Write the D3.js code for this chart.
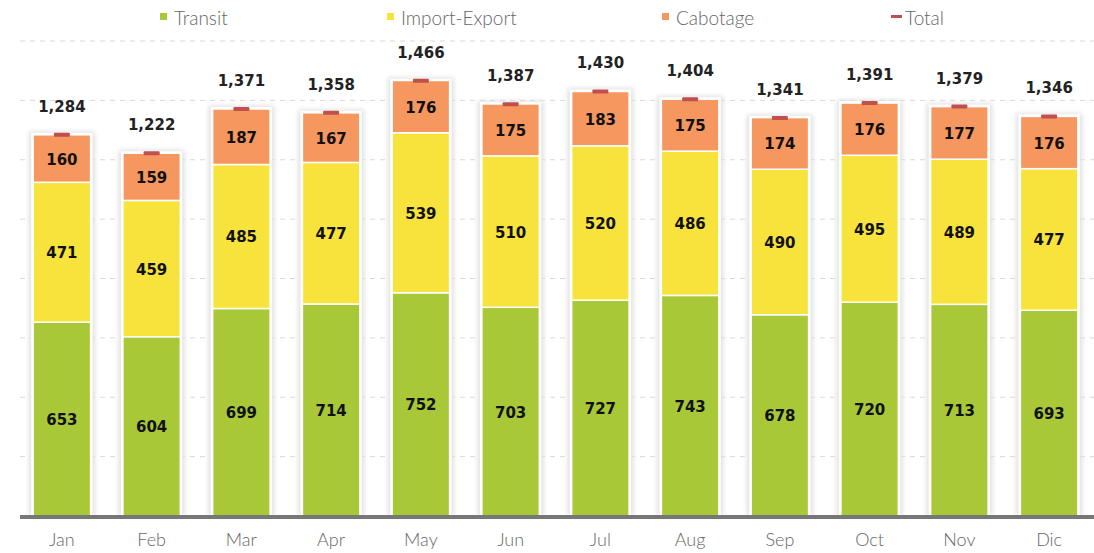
<!DOCTYPE html>
<html>
<head>
<meta charset="utf-8">
<script src="https://cdn.jsdelivr.net/npm/d3@7"></script>
<style>
  body { margin: 0; background: #fff; }
  .grid line { stroke: #d9d9d9; stroke-dasharray: 5,5; }
  .month { font-family: Lato, "Open Sans", sans-serif; font-weight: 300; font-size: 18px; fill: #666; }
  .seg-label { font-family: "DejaVu Sans", sans-serif; font-weight: bold; font-size: 15px; fill: #111; }
  .total-label { font-family: "DejaVu Sans", sans-serif; font-weight: bold; font-size: 15px; fill: #222; }
  .legend-text { font-family: Lato, "Open Sans", sans-serif; font-weight: 300; font-size: 19px; fill: #666; }
</style>
</head>
<body>
<svg id="chart" width="1094" height="553"></svg>
<script>
var months = ['Jan','Feb','Mar','Apr','May','Jun','Jul','Aug','Sep','Oct','Nov','Dic'];
var transit = [653, 604, 699, 714, 752, 703, 727, 743, 678, 720, 713, 693];
var importExport = [471, 459, 485, 477, 539, 510, 520, 486, 490, 495, 489, 477];
var cabotage = [160, 159, 187, 167, 176, 175, 183, 175, 174, 176, 177, 176];
var totals = [1284, 1222, 1371, 1358, 1466, 1387, 1430, 1404, 1341, 1391, 1379, 1346];
var seriesNames = ['Transit', 'Import-Export', 'Cabotage'];
var colors = ['#a8c838', '#f7e33c', '#f5975f'];
var totalColor = '#c0504d';
var gridTicks = [200, 400, 600, 800, 1000, 1200, 1400, 1600];

var svg = d3.select('#chart');

var x = d3.scaleBand().domain(months).range([17, 1094]).paddingInner(0.36).paddingOuter(0.18);
var y = d3.scaleLinear().domain([0, 1600]).range([516, 41]);

var defs = svg.append('defs');
defs.append('filter').attr('id', 'shadow')
    .attr('x', '-30%').attr('y', '-10%').attr('width', '160%').attr('height', '120%')
    .append('feGaussianBlur').attr('stdDeviation', 2.5);

//gridlines
svg.append('g')
    .attr('class', 'grid')
    .selectAll('line')
    .data(gridTicks)
    .enter().append('line')
    .attr('x1', 20)
    .attr('x2', 1094)
    .attr('y1', function(d) { return y(d); })
    .attr('y2', function(d) { return y(d); });

//stack
var rows = months.map(function(m, i) {
    return { month: m, s0: transit[i], s1: importExport[i], s2: cabotage[i], total: totals[i] };
});
var stack = d3.stack().keys(['s0', 's1', 's2']);
var layers = stack(rows);

//bar shadow
svg.append('g')
    .selectAll('rect')
    .data(rows)
    .enter().append('rect')
    .attr('x', function(d) { return x(d.month) - 4; })
    .attr('width', x.bandwidth() + 8)
    .attr('y', function(d) { return y(d.total) - 3; })
    .attr('height', function(d) { return y(0) - y(d.total) + 3; })
    .attr('fill', '#dedede')
    .attr('filter', 'url(#shadow)');

svg.append('g')
    .selectAll('rect')
    .data(rows)
    .enter().append('rect')
    .attr('x', function(d) { return x(d.month) - 2; })
    .attr('width', x.bandwidth() + 4)
    .attr('y', function(d) { return y(d.total) - 2; })
    .attr('height', function(d) { return y(0) - y(d.total) + 2; })
    .attr('fill', '#fff');

//segments
layers.forEach(function(layer, li) {
    var g = svg.append('g');
    g.selectAll('rect')
        .data(layer)
        .enter().append('rect')
        .attr('x', function(d) { return x(d.data.month); })
        .attr('width', x.bandwidth())
        .attr('y', function(d) { return y(d[1]); })
        .attr('height', function(d) { return y(d[0]) - y(d[1]); })
        .attr('fill', colors[li])
        .attr('stroke', '#fff')
        .attr('stroke-width', 1.5);

    g.selectAll('text')
        .data(layer)
        .enter().append('text')
        .attr('class', 'seg-label')
        .attr('text-anchor', 'middle')
        .attr('dominant-baseline', 'central')
        .attr('x', function(d) { return x(d.data.month) + x.bandwidth() / 2; })
        .attr('y', function(d) { return (y(d[0]) + y(d[1])) / 2 + 1; })
        .text(function(d) { return d[1] - d[0]; });
});

//total markers
svg.append('g')
    .selectAll('rect')
    .data(rows)
    .enter().append('rect')
    .attr('x', function(d) { return x(d.month) + x.bandwidth() / 2 - 8; })
    .attr('width', 16)
    .attr('y', function(d) { return y(d.total) - 2; })
    .attr('height', 4)
    .attr('rx', 1)
    .attr('fill', totalColor);

svg.append('g')
    .selectAll('text')
    .data(rows)
    .enter().append('text')
    .attr('class', 'total-label')
    .attr('text-anchor', 'middle')
    .attr('x', function(d) { return x(d.month) + x.bandwidth() / 2; })
    .attr('y', function(d) { return y(d.total) - 23; })
    .text(function(d) { return d3.format(',')(d.total); });

//axis
var xAxis = svg.append('g')
    .attr('transform', 'translate(0,' + y(0) + ')')
    .call(d3.axisBottom(x).tickSize(0).tickPadding(17));
xAxis.select('.domain').attr('stroke', '#777').attr('stroke-width', 4).attr('d', 'M20,1H1094');
xAxis.selectAll('text').attr('class', 'month').attr('font-size', null).attr('font-family', null).attr('fill', null);

//legend
var legendItems = [
    { name: seriesNames[0], color: colors[0], x: 160, type: 'box' },
    { name: seriesNames[1], color: colors[1], x: 387, type: 'box' },
    { name: seriesNames[2], color: colors[2], x: 662, type: 'box' },
    { name: 'Total', color: totalColor, x: 891, type: 'line' }
];
var legend = svg.append('g')
    .selectAll('g')
    .data(legendItems)
    .enter().append('g')
    .attr('transform', function(d) { return 'translate(' + d.x + ',16)'; });
legend.append('rect')
    .attr('x', 0)
    .attr('y', function(d) { return d.type === 'box' ? -3 : -1; })
    .attr('width', function(d) { return d.type === 'box' ? 7 : 11; })
    .attr('height', function(d) { return d.type === 'box' ? 7 : 3; })
    .attr('fill', function(d) { return d.color; });
legend.append('text')
    .attr('class', 'legend-text')
    .attr('x', function(d) { return d.type === 'box' ? 14 : 14; })
    .attr('y', 1)
    .attr('dominant-baseline', 'central')
    .text(function(d) { return d.name; });
</script>
</body>
</html>
